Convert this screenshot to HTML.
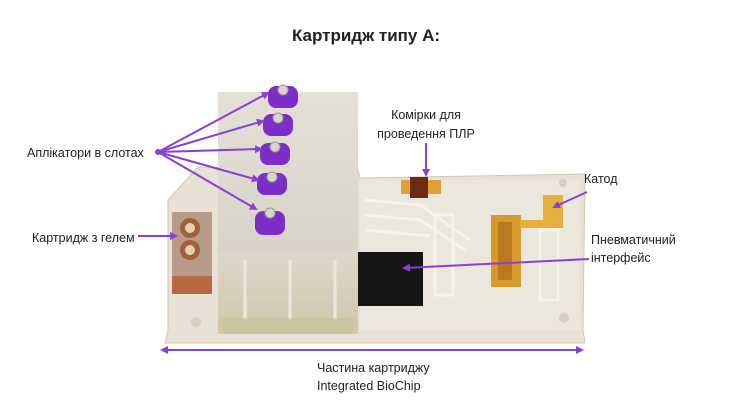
<!DOCTYPE html>
<html><head><meta charset="utf-8"><style>
html,body{margin:0;padding:0;background:#fff;}
svg{display:block;}
text{font-family:"Liberation Sans",sans-serif;fill:#222;}
</style></head><body>
<svg width="740" height="403" viewBox="0 0 740 403" xmlns="http://www.w3.org/2000/svg">
<defs>
<marker id="ah" markerWidth="8" markerHeight="8" refX="6" refY="4" orient="auto" markerUnits="userSpaceOnUse"><path d="M0,0 L8,4 L0,8 Z" fill="#8a3fd6"/></marker>
<linearGradient id="blk" x1="0" y1="0" x2="0" y2="1"><stop offset="0" stop-color="#e4e0d8"/><stop offset="1" stop-color="#d9d4c8"/></linearGradient>
<linearGradient id="low" x1="0" y1="0" x2="0" y2="1"><stop offset="0" stop-color="#ddd8cb"/><stop offset="1" stop-color="#cfc6aa"/></linearGradient>
</defs>
<text x="366" y="41" font-size="17" font-weight="bold" text-anchor="middle" fill="#000">Картридж типу А:</text>

<path d="M198,167 L358,170 L360,178 L585,174 L583,330 L585,343 L165,343 L168,330 L168,200 Z" fill="#e8e2d6" stroke="#d0c9bb" stroke-width="1"/>
<rect x="360" y="180" width="220" height="150" fill="#ece7dc"/>
<g stroke="#f6f3ec" stroke-width="3" fill="none">
<path d="M365,200 L420,205 L470,240"/><path d="M365,215 L420,220 L465,250"/><path d="M365,230 L430,236"/>
<rect x="435" y="215" width="18" height="80"/><rect x="540" y="230" width="18" height="70"/>
</g>
<circle cx="196" cy="322" r="5" fill="#d6cfc0"/><circle cx="564" cy="318" r="5" fill="#d6cfc0"/><circle cx="563" cy="183" r="4" fill="#d6cfc0"/>

<rect x="218" y="250" width="140" height="84" fill="url(#low)"/>
<rect x="218" y="92" width="140" height="160" fill="url(#blk)"/>
<g stroke="#ebe8e0" stroke-width="3"><line x1="245" y1="260" x2="245" y2="320"/><line x1="290" y1="260" x2="290" y2="320"/><line x1="335" y1="260" x2="335" y2="320"/></g>
<rect x="222" y="318" width="132" height="14" fill="#cbbf98" opacity=".6"/>

<rect x="172" y="212" width="40" height="82" fill="#b89a88"/>
<rect x="172" y="276" width="40" height="18" fill="#b86a45"/>
<circle cx="190" cy="228" r="10" fill="#a0603f"/><circle cx="190" cy="228" r="5" fill="#e2d2b0"/>
<circle cx="190" cy="250" r="10" fill="#a0603f"/><circle cx="190" cy="250" r="5" fill="#e2d2b0"/>

<rect x="358" y="252" width="65" height="54" fill="#151515"/>
<rect x="401" y="180" width="40" height="14" fill="#e0a035"/>
<rect x="410" y="177" width="18" height="21" fill="#6e2a14"/>
<rect x="491" y="215" width="30" height="72" fill="#d99a2c"/>
<rect x="498" y="222" width="14" height="58" fill="#b97a20"/>
<path d="M543,195 L563,195 L563,228 L520,228 L520,220 L543,220 Z" fill="#e6b040"/>

<g fill="#7b2fc7">
<rect x="268" y="86" width="30" height="22" rx="8"/><rect x="263" y="114" width="30" height="22" rx="8"/>
<rect x="260" y="143" width="30" height="22" rx="8"/><rect x="257" y="173" width="30" height="22" rx="8"/>
<rect x="255" y="211" width="30" height="24" rx="8"/>
</g>
<g fill="#d8d4cc" stroke="#999" stroke-width="1">
<circle cx="283" cy="90" r="5"/><circle cx="278" cy="118" r="5"/><circle cx="275" cy="147" r="5"/><circle cx="272" cy="177" r="5"/><circle cx="270" cy="213" r="5"/>
</g>

<g stroke="#8a3fd6" stroke-width="2" fill="none">
<line x1="158" y1="152" x2="268" y2="93" marker-end="url(#ah)"/>
<line x1="158" y1="152" x2="263" y2="121" marker-end="url(#ah)"/>
<line x1="158" y1="152" x2="261" y2="149" marker-end="url(#ah)"/>
<line x1="158" y1="152" x2="258" y2="180" marker-end="url(#ah)"/>
<line x1="158" y1="152" x2="256" y2="209" marker-end="url(#ah)"/>
<line x1="138" y1="236" x2="176" y2="236" marker-end="url(#ah)"/>
<line x1="426" y1="143" x2="426" y2="175" marker-end="url(#ah)"/>
<line x1="587" y1="192" x2="554" y2="207" marker-end="url(#ah)"/>
<line x1="589" y1="259" x2="404" y2="268" marker-end="url(#ah)"/>
<line x1="166" y1="350" x2="578" y2="350"/>
</g>
<circle cx="158" cy="152" r="3" fill="#8a3fd6"/>
<path d="M160,350 L168,346 L168,354 Z" fill="#8a3fd6"/><path d="M584,350 L576,346 L576,354 Z" fill="#8a3fd6"/>

<g font-size="12.5">
<text x="27" y="157">Аплікатори в  слотах</text>
<text x="32" y="242">Картридж з гелем</text>
<text x="426" y="119" text-anchor="middle">Комірки для</text>
<text x="426" y="138" text-anchor="middle">проведення ПЛР</text>
<text x="584" y="183">Катод</text>
<text x="591" y="244">Пневматичний</text>
<text x="591" y="262">інтерфейс</text>
<text x="317" y="372">Частина картриджу</text>
<text x="317" y="390">Integrated BioChip</text>
</g>
</svg>
</body></html>
